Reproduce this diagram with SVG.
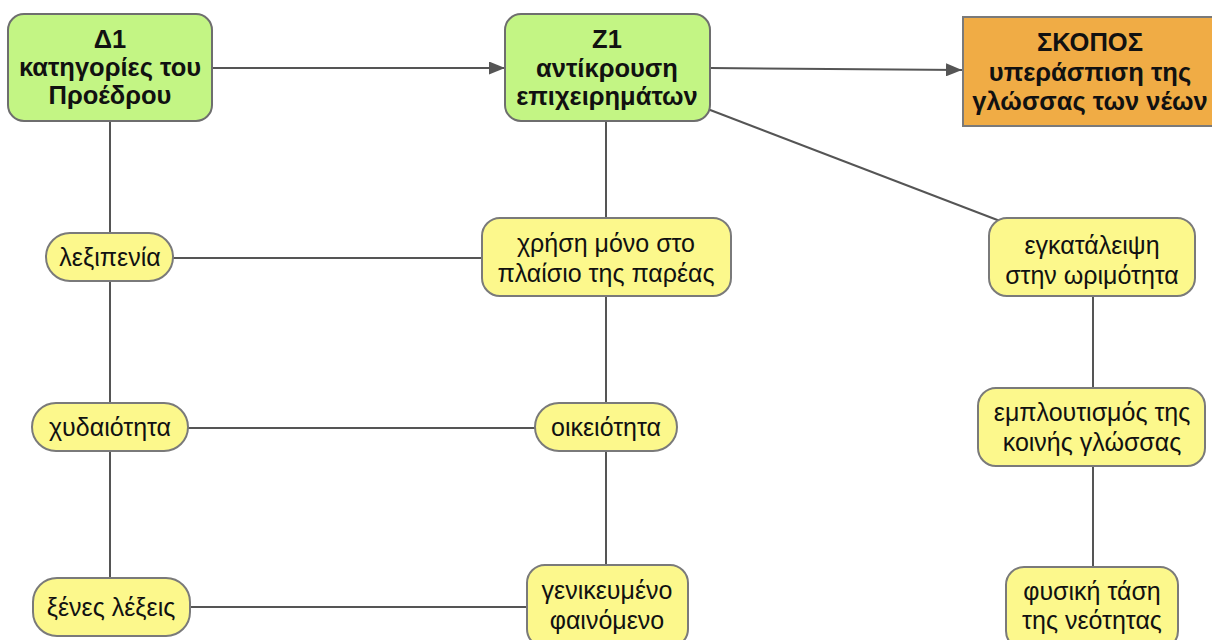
<svg xmlns="http://www.w3.org/2000/svg" width="1212" height="640" viewBox="0 0 1212 640">
<style>
.g{fill:#C3F584;stroke:#6E6E6E;stroke-width:2}
.y{fill:#FCF88C;stroke:#7A7A7A;stroke-width:2}
.o{fill:#F0AC45;stroke:#7A7A7A;stroke-width:2}
.tb{font-family:"Liberation Sans",Arial,sans-serif;font-weight:bold;font-size:25.5px;fill:#111;text-anchor:middle}
.t{font-family:"Liberation Sans",Arial,sans-serif;font-size:25px;fill:#111;text-anchor:middle}
.e{stroke:#555;stroke-width:2;fill:none}
</style>
<defs>
<marker id="a" viewBox="0 0 10 10" refX="10" refY="5" markerWidth="16" markerHeight="13" markerUnits="userSpaceOnUse" orient="auto" preserveAspectRatio="none"><path d="M0,0L10,5L0,10z" fill="#555"/></marker>
</defs>
<rect width="1212" height="640" fill="#fff"/>
<g id="edges">
<path class="e" d="M212,68L505,68" marker-end="url(#a)"/>
<path class="e" d="M710,68L962,70" marker-end="url(#a)"/>
<path class="e" d="M705,108L1000,221"/>
<path class="e" d="M110,121V233M110,281V403M110,451V578"/>
<path class="e" d="M606,121V218M606,296V403M606,451V565"/>
<path class="e" d="M1093,296V388M1093,466V567"/>
<path class="e" d="M173,258H482M188,428H535M190,607H527"/>
</g>
<g id="d1"><rect class="g" x="8" y="14" width="204" height="107" rx="16"/>
<text class="tb" x="110" y="48">Δ1</text><text class="tb" x="110" y="76">κατηγορίες του</text><text class="tb" x="110" y="104">Προέδρου</text></g>
<g id="z1"><rect class="g" x="505" y="14" width="205" height="107" rx="16"/>
<text class="tb" x="607" y="48">Z1</text><text class="tb" x="607" y="77">αντίκρουση</text><text class="tb" x="607" y="105">επιχειρημάτων</text></g>
<g id="skopos"><rect class="o" x="963" y="17" width="256" height="109"/>
<text class="tb" x="1090" y="51">ΣΚΟΠΟΣ</text><text class="tb" x="1090" y="81">υπεράσπιση της</text><text class="tb" x="1090" y="110">γλώσσας των νέων</text></g>
<g id="lexipenia"><rect class="y" x="46" y="233" width="127" height="48" rx="24"/><text class="t" x="110" y="266">λεξιπενία</text></g>
<g id="chydaiotita"><rect class="y" x="32" y="403" width="156" height="48" rx="24"/><text class="t" x="110" y="436">χυδαιότητα</text></g>
<g id="xenes"><rect class="y" x="33" y="578" width="157" height="58" rx="24"/><text class="t" x="111" y="616">ξένες λέξεις</text></g>
<g id="chrisi"><rect class="y" x="482" y="218" width="249" height="78" rx="18"/><text class="t" x="606" y="252">χρήση μόνο στο</text><text class="t" x="606" y="282">πλαίσιο της παρέας</text></g>
<g id="oikeiotita"><rect class="y" x="535" y="403" width="142" height="48" rx="24"/><text class="t" x="606" y="436">οικειότητα</text></g>
<g id="genikevmeno"><rect class="y" x="527" y="565" width="161" height="82" rx="18"/><text class="t" x="607" y="599">γενικευμένο</text><text class="t" x="607" y="629">φαινόμενο</text></g>
<g id="egkataleipsi"><rect class="y" x="989" y="218" width="206" height="78" rx="18"/><text class="t" x="1092" y="254">εγκατάλειψη</text><text class="t" x="1092" y="284">στην ωριμότητα</text></g>
<g id="emploutismos"><rect class="y" x="978" y="388" width="227" height="78" rx="18"/><text class="t" x="1092" y="421">εμπλουτισμός της</text><text class="t" x="1092" y="451">κοινής γλώσσας</text></g>
<g id="fysiki"><rect class="y" x="1006" y="567" width="172" height="82" rx="18"/><text class="t" x="1092" y="600">φυσική τάση</text><text class="t" x="1092" y="629">της νεότητας</text></g>
</svg>
